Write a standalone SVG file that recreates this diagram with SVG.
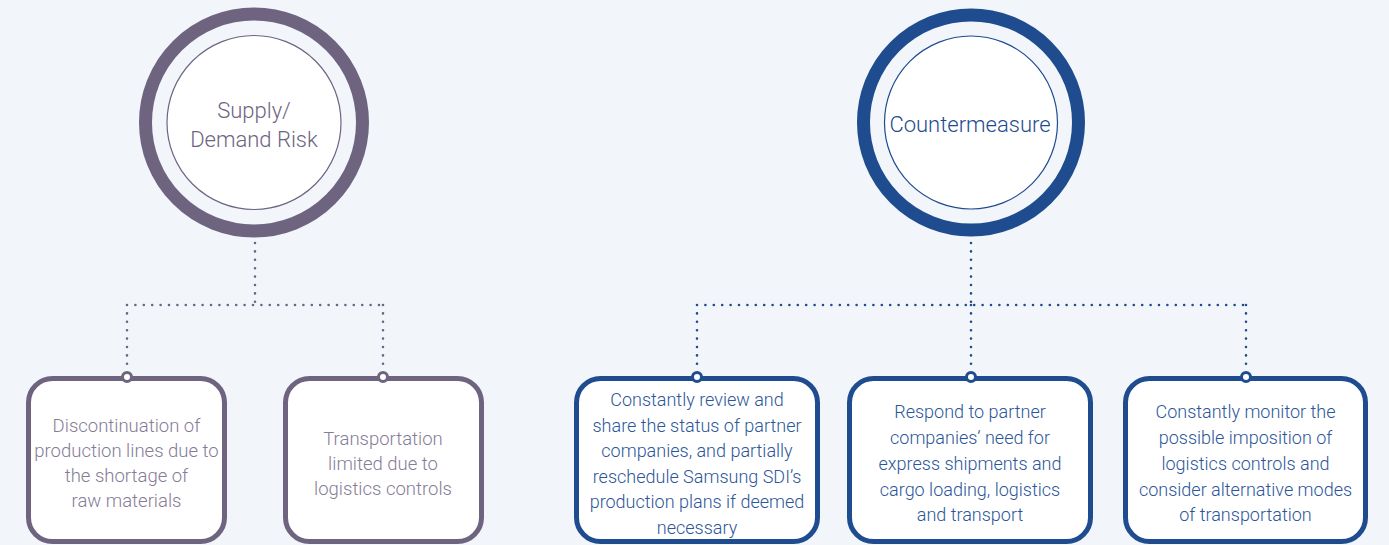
<svg xmlns="http://www.w3.org/2000/svg" width="1389" height="545" viewBox="0 0 1389 545">
<style>
.bg{fill:#f2f5fa}
.ringP{fill:none;stroke:#6e6480;stroke-width:13}
.ringB{fill:none;stroke:#1e4c8f;stroke-width:13}
.innP{fill:#fff;stroke:#6e6480;stroke-width:1.2}
.innB{fill:#fff;stroke:#1e4c8f;stroke-width:1.2}
.boxP{fill:#fff;stroke:#6e6480;stroke-width:5}
.boxB{fill:#fff;stroke:#1e4c8f;stroke-width:5}
.dotP{fill:#fff;stroke:#6e6480;stroke-width:3}
.dotB{fill:#fff;stroke:#1e4c8f;stroke-width:3}
.lnP{fill:none;stroke:#6e6480;stroke-width:2.6;stroke-linecap:round;stroke-dasharray:0 8.4}
.lnB{fill:none;stroke:#1e4c8f;stroke-width:2.6;stroke-linecap:round;stroke-dasharray:0 8.4}
text{font-family:Roboto,"Liberation Sans",sans-serif;font-weight:300;text-anchor:middle}
.tP{fill:#857c96;font-size:18.5px}
.tB{fill:#2c5699;font-size:18px}
.hP{fill:#6e6480;font-size:22px}
.hB{fill:#1e4c8f;font-size:22px}
</style>
<rect class="bg" x="0" y="0" width="1389" height="545"/>
<g id="connectors">
<path class="lnP" d="M255 243 V305 M127 305 H383 M127 305 V372 M383 305 V372"/>
<path class="lnB" d="M971 243 V305 M697 305 H1246 M697 305 V372 M971 305 V372 M1246 305 V372"/>
</g>
<g id="supply-demand-risk">
<circle class="ringP" cx="254" cy="122.5" r="108.5"/>
<circle class="innP" cx="254" cy="122.5" r="87"/>
<text class="hP" x="254" y="118">Supply/</text>
<text class="hP" x="254" y="147">Demand Risk</text>
</g>
<g id="countermeasure">
<circle class="ringB" cx="971" cy="122.5" r="107.5"/>
<circle class="innB" cx="971" cy="122.5" r="86.5"/>
<text class="hB" x="970" y="132">Countermeasure</text>
</g>
<g id="risk-1">
<rect class="boxP" x="28.5" y="378.5" width="196" height="163" rx="24"/>
<circle class="dotP" cx="127" cy="377" r="4.5"/>
<text class="tP" x="126.5" y="432">Discontinuation of</text>
<text class="tP" x="126.5" y="457">production lines due to</text>
<text class="tP" x="126.5" y="482">the shortage of</text>
<text class="tP" x="126.5" y="507">raw materials</text>
</g>
<g id="risk-2">
<rect class="boxP" x="285.5" y="378.5" width="196" height="163" rx="24"/>
<circle class="dotP" cx="383" cy="377" r="4.5"/>
<text class="tP" x="383" y="445">Transportation</text>
<text class="tP" x="383" y="470">limited due to</text>
<text class="tP" x="383" y="495">logistics controls</text>
</g>
<g id="measure-1">
<rect class="boxB" x="576.5" y="378.5" width="241" height="163" rx="24"/>
<circle class="dotB" cx="697" cy="377" r="4.5"/>
<text class="tB" x="697" y="406">Constantly review and</text>
<text class="tB" x="697" y="432">share the status of partner</text>
<text class="tB" x="697" y="457">companies, and partially</text>
<text class="tB" x="697" y="483">reschedule Samsung SDI’s</text>
<text class="tB" x="697" y="508">production plans if deemed</text>
<text class="tB" x="697" y="534">necessary</text>
</g>
<g id="measure-2">
<rect class="boxB" x="849.5" y="378.5" width="241" height="163" rx="24"/>
<circle class="dotB" cx="971" cy="377" r="4.5"/>
<text class="tB" x="970" y="418">Respond to partner</text>
<text class="tB" x="970" y="444">companies’ need for</text>
<text class="tB" x="970" y="470">express shipments and</text>
<text class="tB" x="970" y="496">cargo loading, logistics</text>
<text class="tB" x="970" y="521">and transport</text>
</g>
<g id="measure-3">
<rect class="boxB" x="1125.5" y="378.5" width="240" height="163" rx="24"/>
<circle class="dotB" cx="1246" cy="377" r="4.5"/>
<text class="tB" x="1245.5" y="418">Constantly monitor the</text>
<text class="tB" x="1245.5" y="444">possible imposition of</text>
<text class="tB" x="1245.5" y="470">logistics controls and</text>
<text class="tB" x="1245.5" y="496">consider alternative modes</text>
<text class="tB" x="1245.5" y="521">of transportation</text>
</g>
</svg>
